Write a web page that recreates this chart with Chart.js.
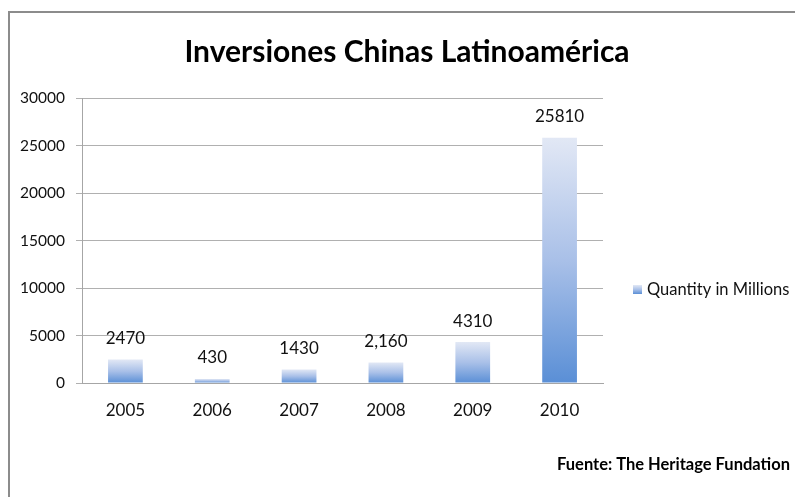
<!DOCTYPE html>
<html>
<head>
<meta charset="utf-8">
<script src="https://cdn.jsdelivr.net/npm/chart.js@4/dist/chart.umd.min.js"></script>
<style>
  html, body { margin: 0; padding: 0; background: #ffffff; }
  #c { display: block; }
</style>
</head>
<body>
<canvas id="c" width="795" height="497"></canvas>
<script>
const titleText = 'Inversiones Chinas Latinoamérica';
const sourceText = 'Fuente: The Heritage Fundation';
const seriesName = 'Quantity in Millions';
const categories = ['2005', '2006', '2007', '2008', '2009', '2010'];
const values = [2470, 430, 1430, 2160, 4310, 25810];
const valueLabels = ['2470', '430', '1430', '2,160', '4310', '25810'];
const yTicks = [0, 5000, 10000, 15000, 20000, 25000, 30000];

const FONT = 'Lato, "Open Sans", sans-serif';
const TEXT = '#111111';
const TOP_COLOR = '#e2e8f5';
const BOTTOM_COLOR = '#5a8fd6';

function barGradient(ctx, yTop, yBottom) {
  const g = ctx.createLinearGradient(0, yTop, 0, yBottom);
  g.addColorStop(0, TOP_COLOR);
  g.addColorStop(0.5, '#a9c0e8');
  g.addColorStop(1, BOTTOM_COLOR);
  return g;
}

const decorPlugin = {
  id: 'decor',
  beforeDraw(chart) {
    const ctx = chart.ctx;
    ctx.save();
    ctx.fillStyle = '#ffffff';
    ctx.fillRect(0, 0, chart.width, chart.height);
    ctx.strokeStyle = '#8c8c8c';
    ctx.lineWidth = 2;
    ctx.strokeRect(9, 12, chart.width + 20, chart.height + 20);
    ctx.restore();
  },
  afterDraw(chart) {
    const ctx = chart.ctx;
    ctx.save();
    ctx.fillStyle = '#000000';
    ctx.font = 'bold 30px ' + FONT;
    ctx.textAlign = 'center';
    ctx.textBaseline = 'middle';
    ctx.fillText(titleText, 407, 52);
    const meta = chart.getDatasetMeta(0);
    ctx.font = '17px ' + FONT;
    ctx.fillStyle = TEXT;
    meta.data.forEach((bar, i) => {
      ctx.fillText(valueLabels[i], bar.x, bar.y - 21);
    });
    const lx = 633, ly = 285;
    ctx.fillStyle = barGradient(ctx, ly, ly + 9);
    ctx.fillRect(lx, ly, 9, 9);
    ctx.fillStyle = TEXT;
    ctx.font = '16.5px ' + FONT;
    ctx.textAlign = 'left';
    ctx.fillText(seriesName, 647, 290);
    ctx.font = 'bold 16.5px ' + FONT;
    ctx.fillStyle = '#000000';
    ctx.textAlign = 'right';
    ctx.fillText(sourceText, 790, 465);
    ctx.restore();
  }
};

new Chart(document.getElementById('c'), {
  type: 'bar',
  data: {
    labels: categories,
    datasets: [{
      label: seriesName,
      data: values,
      backgroundColor(context) {
        const chart = context.chart;
        const area = chart.chartArea;
        if (!area || context.dataIndex === undefined) return BOTTOM_COLOR;
        const y = chart.scales.y;
        const v = context.raw;
        return barGradient(chart.ctx, y.getPixelForValue(v), y.getPixelForValue(0));
      },
      borderWidth: 0,
      categoryPercentage: 1,
      barPercentage: 0.4
    }]
  },
  options: {
    responsive: false,
    animation: false,
    devicePixelRatio: 1,
    layout: { padding: { left: 10, right: 192, top: 98, bottom: 74 } },
    plugins: {
      legend: { display: false },
      title: { display: false },
      tooltip: { enabled: false }
    },
    scales: {
      x: {
        grid: { display: false, drawTicks: false },
        border: { display: true, color: '#a6a6a6', width: 1 },
        ticks: { color: TEXT, font: { family: FONT, size: 17 }, padding: 17 },
        afterFit(scale) { scale.height = 40; }
      },
      y: {
        min: 0,
        max: 30000,
        afterBuildTicks(scale) { scale.ticks = yTicks.map(v => ({ value: v })); },
        grid: { color: '#b0b0b0', lineWidth: 1, tickLength: 6, drawTicks: true },
        border: { display: true, color: '#a6a6a6', width: 1 },
        ticks: {
          color: TEXT,
          font: { family: FONT, size: 15.5 },
          padding: 11,
          callback(v) { return String(v); }
        },
        afterFit(scale) { scale.width = 72; }
      }
    }
  },
  plugins: [decorPlugin]
});
</script>
</body>
</html>
